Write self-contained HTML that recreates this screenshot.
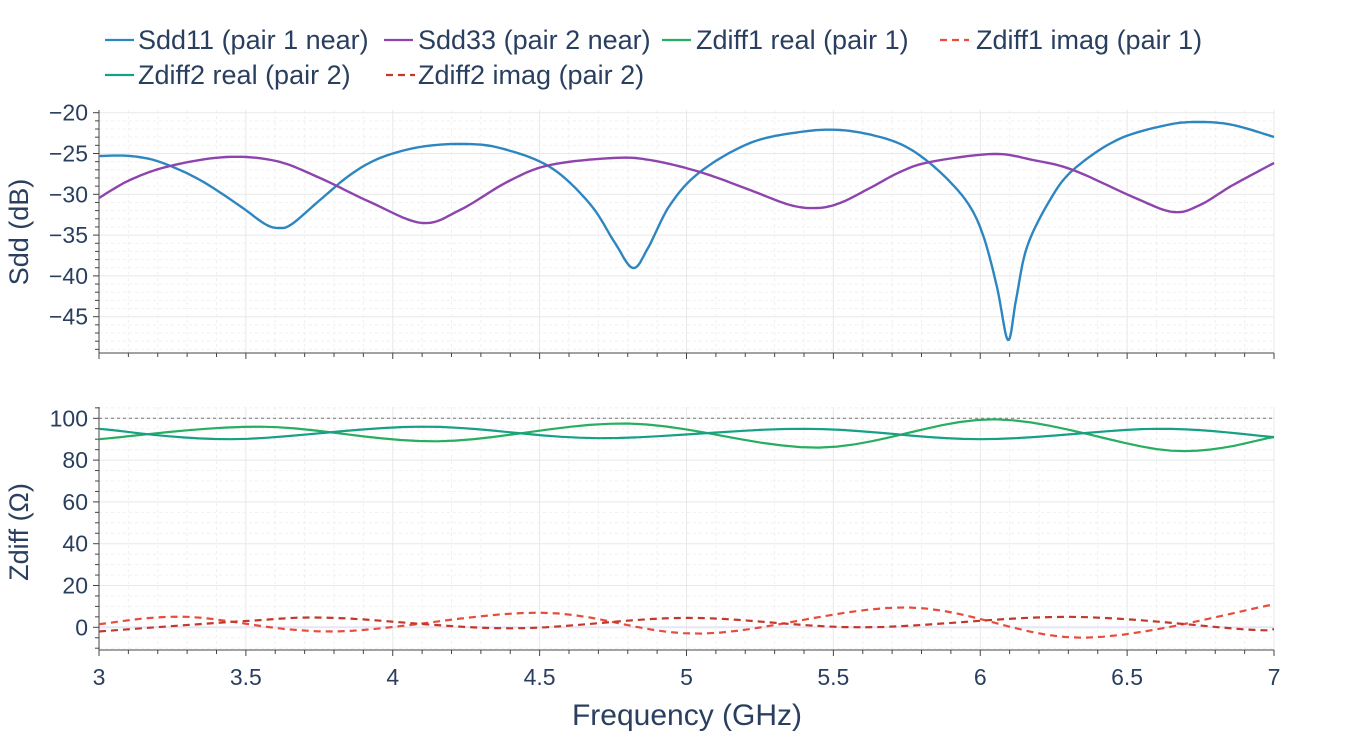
<!DOCTYPE html>
<html><head><meta charset="utf-8"><style>
body{margin:0;background:#fff;}
svg text{font-family:"Liberation Sans",Arial,sans-serif;fill:#2a3f5f;}
</style></head><body>
<svg width="1365" height="738" viewBox="0 0 1365 738" xmlns="http://www.w3.org/2000/svg">
<g id="grid"></g>
<g id="ax"></g>
<g fill="none" stroke-width="2.4" stroke-linejoin="round" id="top"></g>
<g fill="none" stroke-width="2.2" id="low"></g>
<g id="leg"></g>
<text x="0" y="0" transform="translate(28,232) rotate(-90)" text-anchor="middle" font-size="27">Sdd (dB)</text>
<text x="0" y="0" transform="translate(28,532) rotate(-90)" text-anchor="middle" font-size="27">Zdiff (Ω)</text>
<text x="687" y="725" text-anchor="middle" font-size="30">Frequency (GHz)</text>
</svg>
<script>
const NS="http://www.w3.org/2000/svg";
function el(p,t,a,txt){const e=document.createElementNS(NS,t);for(const k in a)e.setAttribute(k,a[k]);if(txt!==undefined)e.textContent=txt;document.getElementById(p).appendChild(e);return e;}
const X=f=>99+(f-3)*293.75;
const Y1=v=>112.7+(-20-v)*8.16;
const Y2=v=>627.3-v*2.09;
const L=99,R=1274;
for(let f=3;f<=7.001;f+=0.1){const x=X(f);const maj=Math.abs(f*2-Math.round(f*2))<1e-6;
 [[110,353],[407,650]].forEach(([a,b])=>el('grid','line',{x1:x,x2:x,y1:a,y2:b,stroke:maj?'#e8e8e8':'#f0f0f0','stroke-dasharray':maj?'':'3,3'}));
 el('ax','line',{x1:x,x2:x,y1:353,y2:maj?359:357,stroke:'#444'});
 el('ax','line',{x1:x,x2:x,y1:650,y2:maj?656:654,stroke:'#444'});
 if(maj){let s=(Math.round(f*2)/2).toString();el('ax','text',{x:x,y:685,'text-anchor':'middle','font-size':23},s);}
}
for(let v=-49;v<=-20;v++){const y=Y1(v);const maj=v%5==0;
 el('grid','line',{x1:L,x2:R,y1:y,y2:y,stroke:maj?'#e8e8e8':'#f0f0f0','stroke-dasharray':maj?'':'3,3'});
 el('ax','line',{x1:maj?93:95,x2:L,y1:y,y2:y,stroke:'#444'});
 if(maj)el('ax','text',{x:88,y:y+8,'text-anchor':'end','font-size':23},'−'+(-v));}
for(let v=-10;v<=105;v+=5){const y=Y2(v);const maj=v%20==0;
 el('grid','line',{x1:L,x2:R,y1:y,y2:y,stroke:v==0?'#e6e6f4':(maj?'#e8e8e8':'#f0f0f0'),'stroke-width':v==0?2:1,'stroke-dasharray':maj?'':'3,3'});
 el('ax','line',{x1:maj?93:95,x2:L,y1:y,y2:y,stroke:'#444'});
 if(maj&&v>=0)el('ax','text',{x:88,y:y+8,'text-anchor':'end','font-size':23},v);}
el('ax','line',{x1:L,x2:L,y1:110,y2:353,stroke:'#444'});
el('ax','line',{x1:L,x2:R,y1:353,y2:353,stroke:'#444'});
el('ax','line',{x1:L,x2:L,y1:407,y2:650,stroke:'#444'});
el('ax','line',{x1:L,x2:R,y1:650,y2:650,stroke:'#444'});
el('ax','line',{x1:L,x2:R,y1:Y2(100),y2:Y2(100),stroke:'#777','stroke-dasharray':'3,3'});
function cr(pts,fx,fy){let out=[];for(let i=0;i<pts.length-1;i++){const p0=pts[Math.max(0,i-1)],p1=pts[i],p2=pts[i+1],p3=pts[Math.min(pts.length-1,i+2)];
 for(let t=0;t<1;t+=0.1){const t2=t*t,t3=t2*t;const c=(a,b,cc,d)=>0.5*(2*b+(-a+cc)*t+(2*a-5*b+4*cc-d)*t2+(-a+3*b-3*cc+d)*t3);
 out.push([c(p0[0],p1[0],p2[0],p3[0]),c(p0[1],p1[1],p2[1],p3[1])]);}}
 out.push(pts[pts.length-1]);return out.map(p=>fx(p[0]).toFixed(1)+','+fy(p[1]).toFixed(1)).join(' ');}
const id=v=>v;
const spl=pts=>cr(pts,X,Y2);
el('top','polyline',{stroke:'#2e86c1',points:cr([[99,156],[130,156],[160,162],[200,180],[240,206],[265,224],[279,228],[292,224],[320,200],[350,175],[380,158],[420,147],[462,144],[500,148],[550,167],[590,204],[615,243],[633,268],[648,248],[670,205],[700,172],[750,143],[800,132],[840,130],[880,137],[910,149],[940,172],[967,202],[983,235],[997,287],[1008,340],[1016,300],[1027,247],[1050,200],[1073,170],[1117,140],[1167,125],[1200,122],[1233,125],[1274,137]],id,id)});
el('top','polyline',{stroke:'#8e44ad',points:cr([[99,198],[130,180],[170,166],[226,157],[276,161],[320,178],[370,202],[422,223],[460,210],[509,181],[550,165],[613,158],[650,160],[700,172],[750,190],[790,205],[817,208],[840,203],[870,188],[900,172],[930,162],[993,154],[1033,160],[1073,170],[1133,197],[1173,212],[1200,205],[1233,185],[1274,163]],id,id)});
el('low','polyline',{stroke:'#27ae60',points:spl([[3,90],[3.55,96],[4.15,89],[4.8,97.5],[5.45,86],[6.05,99.5],[6.65,84.5],[7,91]])});
el('low','polyline',{stroke:'#17a085',points:spl([[3,95],[3.45,90],[4.1,96],[4.7,90.5],[5.4,95],[6.0,90],[6.6,95],[7,91]])});
el('low','polyline',{stroke:'#e74c3c','stroke-dasharray':'7,5',points:spl([[3,1.5],[3.3,5],[3.8,-2],[4.5,7],[5.05,-3],[5.75,9.5],[6.35,-5],[7,11]])});
el('low','polyline',{stroke:'#c0392b','stroke-dasharray':'7,5',points:spl([[3,-2],[3.5,3],[3.8,4.5],[4.4,-0.5],[5.0,4.5],[5.6,0],[6.3,5],[6.9,-1],[7,-1]])});
[[105,40,'#2e86c1','',138,'Sdd11 (pair 1 near)'],[384,40,'#8e44ad','',418,'Sdd33 (pair 2 near)'],[662,40,'#27ae60','',696,'Zdiff1 real (pair 1)'],[940,40,'#e74c3c','7,5',976,'Zdiff1 imag (pair 1)'],[105,75,'#17a085','',138,'Zdiff2 real (pair 2)'],[386,75,'#c0392b','7,5',418,'Zdiff2 imag (pair 2)']].forEach(([x,y,c,d,tx,t])=>{
 el('leg','line',{x1:x,x2:x+29,y1:y,y2:y,stroke:c,'stroke-width':2.2,'stroke-dasharray':d});
 el('leg','text',{x:tx,y:y+9,'font-size':27},t);});
</script>
</body></html>
